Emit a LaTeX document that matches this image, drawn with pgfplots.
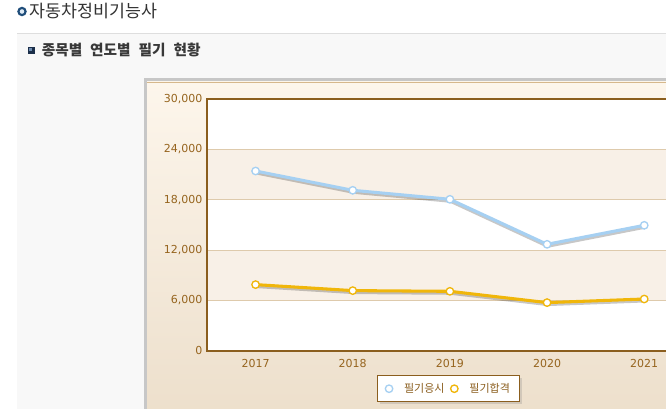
\documentclass[border=0pt]{standalone}
\usepackage{fontspec}
\setmainfont{DejaVu Sans}
\newfontfamily\kr{Noto Sans CJK KR}
\usepackage{pgfplots}
\pgfplotsset{compat=1.18}
\usetikzlibrary{shadows}

\definecolor{brn}{RGB}{139,94,30}
\definecolor{tickc}{RGB}{150,100,30}
\definecolor{grd}{RGB}{222,202,172}
\definecolor{band}{RGB}{248,240,231}
\definecolor{sky}{RGB}{166,208,242}
\definecolor{gold}{RGB}{240,182,10}
\definecolor{panel}{RGB}{248,248,248}
\definecolor{ringblue}{RGB}{31,77,122}
\definecolor{ringfill}{RGB}{222,234,245}
\definecolor{navy}{RGB}{28,47,74}
\definecolor{navylite}{RGB}{110,140,176}
\definecolor{frametop}{RGB}{253,246,236}
\definecolor{framebot}{RGB}{236,222,202}
\definecolor{frameline}{RGB}{214,184,140}

\begin{document}
\begin{tikzpicture}
\clip[use as bounding box] (0,0) rectangle (499.5pt,-306pt);
% everything outside the axis in pixel units, y downwards
\begin{scope}[x=0.75pt,y=-0.75pt]
\fill[white] (0,0) rectangle (666,408);
% page panel
\fill[panel] (17,33) rectangle (700,420);
\draw[black!13, line width=1.1pt] (17,33.5) -- (700,33.5);
% headings
\draw[line width=1.6pt, draw=ringblue, fill=ringfill] (22,11.5) circle (3.6);
\node[anchor=west, inner sep=0pt, text=black!80] at (29.5,11.3) {\kr\fontsize{13}{15}\selectfont 자동차정비기능사};
\fill[navy] (28,47) rectangle (35,53.5);
\fill[navylite] (28.7,47.7) rectangle (32,50.5);
\node[anchor=west, inner sep=0pt, text=black!78] at (41.5,50) {\kr\bfseries\fontsize{11}{13}\selectfont 종목별\hspace{6pt}연도별\hspace{6pt}필기\hspace{6pt}현황};
% chart frame
\shade[top color=frametop, bottom color=framebot] (147,80.7) rectangle (700,430);
\draw[black!22, line width=2.25pt] (145.5,79.2) rectangle (720,460);
\draw[frameline, line width=0.75pt] (147,82) -- (700,82);
% plot area background and bands
\fill[white] (207,98.8) rectangle (700,350.8);
\fill[band] (207,300.4) rectangle (700,250);
\fill[band] (207,199.6) rectangle (700,149.2);
\end{scope}

\begin{axis}[
  at={(155.25pt,-263.1pt)}, anchor=south west,
  scale only axis,
  width=364.35pt, height=189pt,
  xmin=-0.5, xmax=4.5, ymin=0, ymax=30000,
  xtick={0,1,2,3,4},
  xticklabels={2017,2018,2019,2020,2021},
  ytick={0,6000,12000,18000,24000,30000},
  scaled y ticks=false,
  /pgf/number format/.cd, 1000 sep={,}, assume math mode=true, /pgfplots/.cd,
  ticklabel style={font=\fontsize{8.25}{10}\selectfont, text=tickc},
  xticklabel style={yshift=-3pt},
  major tick length=0pt,
  ymajorgrids,
  grid style={grd, line width=0.75pt},
  axis line style={brn, line width=1.9pt},
  legend columns=2,
  legend style={at={(0.498,-0.1504)}, anchor=center, draw=brn, line width=0.75pt,
    fill=white, drop shadow={shadow xshift=1.5pt, shadow yshift=-1.5pt, opacity=0.25},
    font=\kr\fontsize{8.25}{10}\selectfont, text=brn,
    inner xsep=5.5pt, inner ysep=3.5pt,
    /tikz/every even column/.append style={column sep=2.5pt}},
  legend image code/.code={\draw[#1, line width=0pt] plot coordinates {(0pt,0pt)};},
]
% shadows
\addplot[forget plot, black, opacity=0.22, line width=2.6pt, yshift=-1.3pt, xshift=0.4pt]
  coordinates {(0,21405) (1,19107) (2,18036) (3,12679) (4,14940)};
\addplot[forget plot, black, opacity=0.22, line width=2.6pt, yshift=-1.3pt, xshift=0.4pt]
  coordinates {(0,7881) (1,7167) (2,7083) (3,5738) (4,6167)};
% series
\addplot[sky, line width=2.3pt, mark=*, mark size=2.8pt,
  mark options={fill=white, draw=sky, line width=1pt}]
  coordinates {(0,21405) (1,19107) (2,18036) (3,12679) (4,14940)};
\addlegendentry{\hspace{6.5pt}필기응시}
\addplot[gold, line width=2.3pt, mark=*, mark size=2.8pt,
  mark options={fill=white, draw=gold, line width=1pt}]
  coordinates {(0,7881) (1,7167) (2,7083) (3,5738) (4,6167)};
\addlegendentry{\hspace{6.5pt}필기합격}
\end{axis}
\end{tikzpicture}
\end{document}
